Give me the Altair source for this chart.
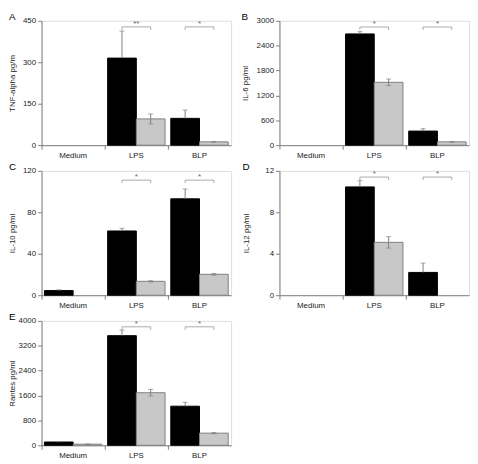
import altair as alt
import pandas as pd

categories = ["Medium", "LPS", "BLP"]
series = ["Series 1", "Series 2"]

letters = ["A", "B", "C", "D", "E"]
y_titles = ["TNF-alpha pg/m", "IL-6 pg/ml", "IL-10 pg/ml", "IL-12 pg/ml", "Rantes pg/ml"]
y_max = [450, 3000, 120, 12, 4000]
y_ticks = [[0, 150, 300, 450], [0, 600, 1200, 1800, 2400, 3000], [0, 40, 80, 120],
           [0, 4, 8, 12], [0, 800, 1600, 2400, 3200, 4000]]

# means and SEM (series 1 = black, series 2 = grey)
tnf_s1 = [0, 315, 97]
tnf_e1 = [0, 98, 30]
tnf_s2 = [0, 95, 12]
tnf_e2 = [0, 18, 1]

il6_s1 = [0, 2683, 340]
il6_e1 = [0, 55, 57]
il6_s2 = [0, 1516, 80]
il6_e2 = [0, 80, 8]

il10_s1 = [4.5, 62, 93]
il10_e1 = [0.7, 2.5, 9.5]
il10_s2 = [0, 13.4, 20.2]
il10_e2 = [0, 0.6, 0.8]

il12_s1 = [0, 10.45, 2.2]
il12_e1 = [0, 0.6, 0.9]
il12_s2 = [0, 5.1, 0]
il12_e2 = [0, 0.55, 0]

rantes_s1 = [105, 3525, 1257]
rantes_e1 = [10, 180, 125]
rantes_s2 = [35, 1690, 390]
rantes_e2 = [3, 105, 20]

significance = [["", "**", "*"], ["", "*", "*"], ["", "*", "*"], ["", "*", "*"], ["", "*", "*"]]
bracket_level = [428, 2850, 111, 11.4, 3810]

values = [
    (tnf_s1, tnf_e1, tnf_s2, tnf_e2),
    (il6_s1, il6_e1, il6_s2, il6_e2),
    (il10_s1, il10_e1, il10_s2, il10_e2),
    (il12_s1, il12_e1, il12_s2, il12_e2),
    (rantes_s1, rantes_e1, rantes_s2, rantes_e2),
]

PW, PH = 192, 126
GREY = "#808080"
title_x = [-29, -34.5, -29, -33.5, -29]


def panel(i):
    s1, e1, s2, e2 = values[i]
    rows = []
    for c, v1, er1, v2, er2 in zip(categories, s1, e1, s2, e2):
        rows.append(dict(cat=c, ser=series[0], val=v1, lo=v1, hi=v1 + er1))
        rows.append(dict(cat=c, ser=series[1], val=v2, lo=v2 - er2, hi=v2 + er2))
    df = pd.DataFrame(rows)
    bars_df = df[df.val > 0]
    err_df = df[df.hi > df.val]
    sig_rows = []
    for c, lab in zip(categories, significance[i]):
        if lab:
            for s in series:
                sig_rows.append(dict(cat=c, ser=s, yb=bracket_level[i], label=lab))
    sig_df = pd.DataFrame(sig_rows)
    star_df = sig_df.drop_duplicates("cat")

    x_axis = alt.Axis(title=None, labelAngle=0, bandPosition=0,
                      ticks=True, tickSize=4, domainColor=GREY, tickColor=GREY,
                      labelColor="#222222", labelFontSize=8, labelPadding=2)
    xenc = alt.X("cat:N", sort=categories,
                 scale=alt.Scale(domain=categories, paddingInner=0, paddingOuter=0),
                 axis=x_axis)
    xoff = alt.XOffset("ser:N", scale=alt.Scale(domain=series, paddingInner=0, paddingOuter=0.1))
    yscale = alt.Scale(domain=[0, y_max[i]], nice=False)
    y_axis = alt.Axis(title=y_titles[i], values=y_ticks[i], format="d", grid=False,
                      domainColor=GREY, tickColor=GREY, tickSize=4, labelColor="#222222",
                      labelFontSize=8, titleFontSize=8, titleFontWeight="normal",
                      titleColor="#222222", labelPadding=2,
                      titleX=title_x[i], titleBaseline="middle")

    bars = alt.Chart(bars_df).mark_bar(strokeWidth=1).encode(
        x=xenc, xOffset=xoff,
        y=alt.Y("val:Q", scale=yscale, axis=y_axis),
        fill=alt.Fill("ser:N", scale=alt.Scale(domain=series, range=["#000000", "#c8c8c8"]), legend=None),
        stroke=alt.Stroke("ser:N", scale=alt.Scale(domain=series, range=["#000000", GREY]), legend=None),
    )
    err = alt.Chart(err_df).mark_rule(color=GREY, strokeWidth=1).encode(
        x=xenc, xOffset=xoff,
        y=alt.Y("lo:Q", scale=yscale, axis=y_axis), y2="hi:Q",
    )
    cap = alt.Chart(err_df).transform_fold(["lo", "hi"], as_=["k", "v"]).transform_filter(
        "datum.v != datum.val").mark_tick(color=GREY, size=5, thickness=1).encode(
        x=xenc, xOffset=xoff,
        y=alt.Y("v:Q", scale=yscale, axis=y_axis),
    )
    bline = alt.Chart(sig_df).mark_line(color="#aaaaaa", strokeWidth=1).encode(
        x=xenc, xOffset=xoff,
        y=alt.Y("yb:Q", scale=yscale, axis=y_axis),
        detail="cat:N",
    )
    bend = alt.Chart(sig_df).mark_rule(color="#aaaaaa", strokeWidth=1, y2Offset=3).encode(
        x=xenc, xOffset=xoff,
        y=alt.Y("yb:Q", scale=yscale, axis=y_axis), y2="yb:Q",
    )
    stars = alt.Chart(star_df).mark_text(color="#666666", fontSize=8, baseline="bottom", dy=1).encode(
        x=xenc,
        y=alt.Y("yb:Q", scale=yscale, axis=y_axis),
        text="label:N",
    )
    return alt.layer(bars, err, cap, bline, bend, stars).properties(
        width=PW, height=PH,
        title=alt.TitleParams(letters[i], anchor="start", frame="bounds", fontSize=10,
                              fontWeight="normal", color="#000000", offset=-5),
    )


chart = alt.concat(*[panel(i) for i in range(5)], columns=2, bounds="flush",
                   spacing={"row": 26, "column": 49}).properties(
    padding=0
).configure_view(stroke=None).configure(font="Liberation Sans")

chart.save("out.html", embed_options={"renderer": "svg", "actions": False})
